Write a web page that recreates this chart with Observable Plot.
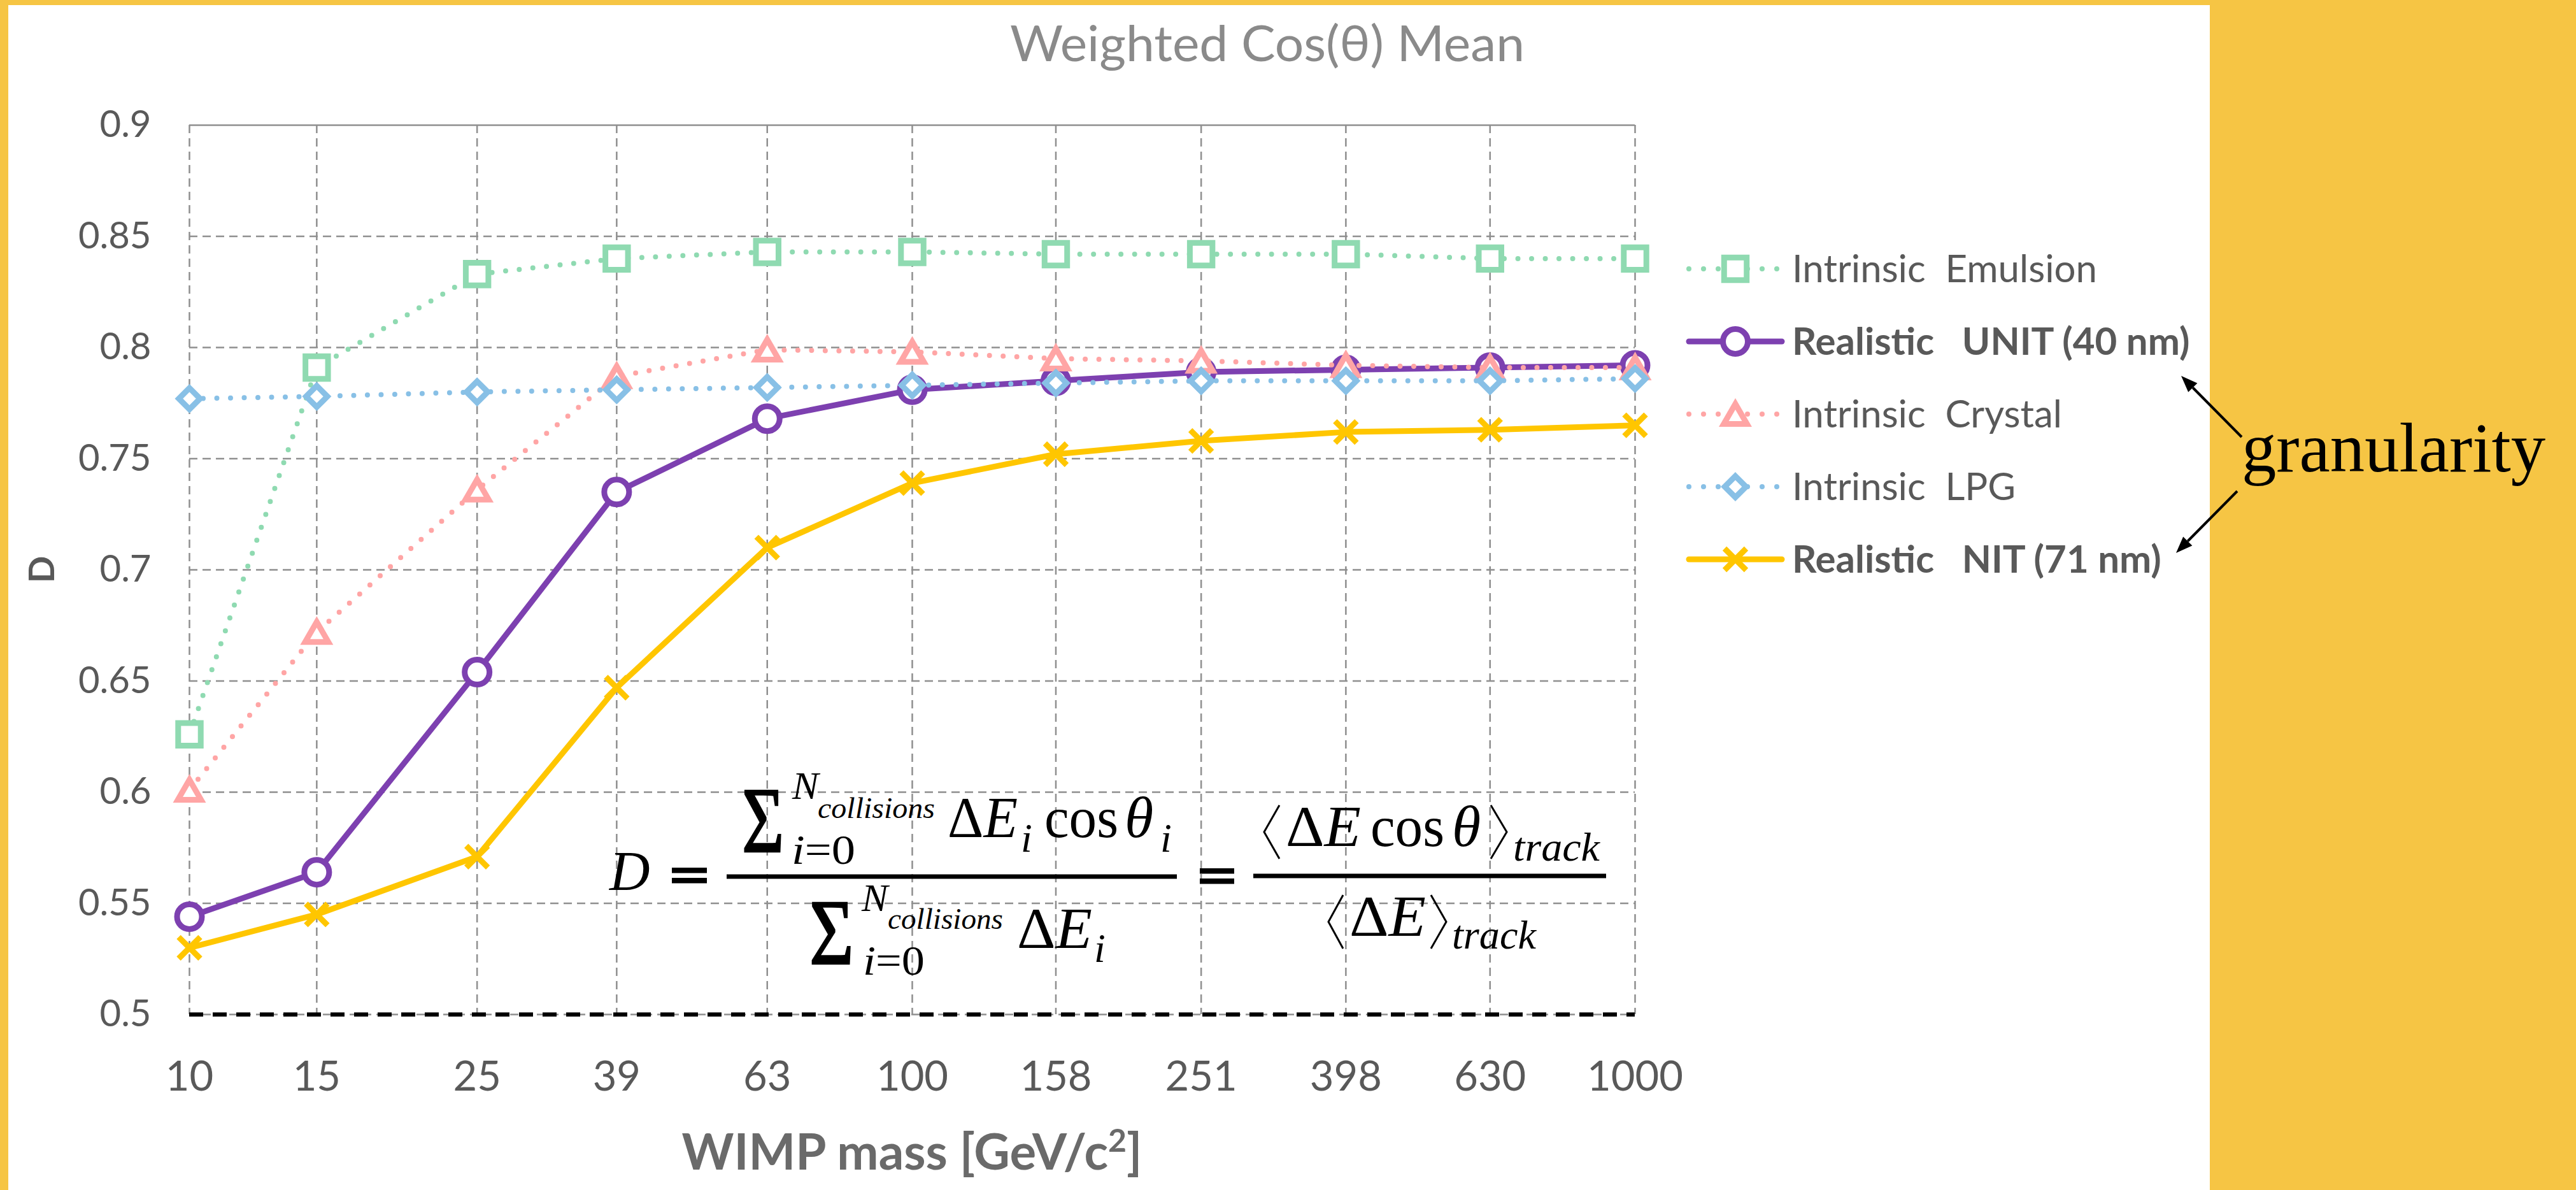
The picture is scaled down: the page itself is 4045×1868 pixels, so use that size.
<!DOCTYPE html>
<html>
<head>
<meta charset="utf-8">
<script src="https://cdn.jsdelivr.net/npm/d3@7"></script>
<script src="https://cdn.jsdelivr.net/npm/@observablehq/plot@0.6"></script>
<style>
  html, body { margin: 0; padding: 0; background: #F6C544; overflow: hidden; }
  #stage { position: relative; width: 4045px; height: 1868px; background: #F6C544; overflow: hidden; }
  #panel { position: absolute; left: 13px; top: 8px; width: 3457px; height: 1860px; background: #ffffff; }
  #panel svg { position: absolute; left: 0; top: 0; }
  #overlay { position: absolute; left: 0; top: 0; pointer-events: none; }
  #overlay text { white-space: pre; }
</style>
</head>
<body>
<div id="stage"><div id="panel"></div></div>
<script>
// WIMP masses (GeV/c^2) used as the x categories, drawn on a log axis
const masses = [10, 15, 25, 39, 63, 100, 158, 251, 398, 630, 1000];
const xTickLabels = ["10", "15", "25", "39", "63", "100", "158", "251", "398", "630", "1000"];

// Weighted cos(theta) mean D for each detector configuration
const emulsion = [0.626, 0.791, 0.833, 0.840, 0.843, 0.843, 0.842, 0.842, 0.842, 0.840, 0.840];
const unit40   = [0.544, 0.564, 0.654, 0.735, 0.768, 0.781, 0.785, 0.789, 0.790, 0.791, 0.792];
const crystal  = [0.601, 0.672, 0.736, 0.787, 0.799, 0.798, 0.795, 0.794, 0.792, 0.791, 0.791];
const lpg      = [0.777, 0.778, 0.780, 0.781, 0.782, 0.783, 0.784, 0.785, 0.785, 0.785, 0.786];
const nit71    = [0.530, 0.545, 0.571, 0.647, 0.710, 0.739, 0.752, 0.758, 0.762, 0.763, 0.765];

const seriesNames = ["Intrinsic  Emulsion", "Realistic   UNIT (40 nm)", "Intrinsic  Crystal", "Intrinsic  LPG", "Realistic   NIT (71 nm)"];
const seriesValues = [emulsion, unit40, crystal, lpg, nit71];

const yTicks = [0.5, 0.55, 0.6, 0.65, 0.7, 0.75, 0.8, 0.85, 0.9];
const yTickLabels = ["0.5", "0.55", "0.6", "0.65", "0.7", "0.75", "0.8", "0.85", "0.9"];

// Per-series drawing style (same order as the names above)
const seriesStyle = [
  {color: "#8FDAB1", dotted: true,  bold: false, symbol: "square",   r: 20,   dy: 0},
  {color: "#7D40B0", dotted: false, bold: true,  symbol: "circle",   r: 19.5, dy: 0},
  {color: "#FFA5A5", dotted: true,  bold: false, symbol: "triangle", r: 13.5, dy: 5},
  {color: "#88C0E6", dotted: true,  bold: false, symbol: "diamond2", r: 15,   dy: 0},
  {color: "#FFC600", dotted: false, bold: true,  symbol: "times",    r: 15.5, dy: 0}
];

const yLabelOf = new Map(yTicks.map((v, i) => [v, yTickLabels[i]]));

const series = seriesNames.map((name, k) => ({
  name,
  ...seriesStyle[k],
  rows: masses.map((m, i) => ({mass: m, value: seriesValues[k][i]}))
}));

const gridGray = "#8f8f8f";
const inner = yTicks.filter(v => v > 0.5 && v < 0.9);

const marks = [
  // horizontal and vertical dashed grid
  Plot.ruleY(inner, {stroke: gridGray, strokeWidth: 2.5, strokeDasharray: "13 8"}),
  Plot.ruleX(masses, {stroke: gridGray, strokeWidth: 2.5, strokeDasharray: "13 8"}),
  Plot.ruleY([0.9], {stroke: gridGray, strokeWidth: 2.5}),
  // baseline at D = 0.5
  Plot.ruleY([0.5], {stroke: gridGray, strokeWidth: 2.5, strokeDasharray: "13 8"}),
  Plot.ruleY([0.5], {stroke: "#000000", strokeWidth: 6.5, strokeDasharray: "22 15"}),
  // mass labels under each grid line
  Plot.text(masses, {x: d => d, text: (d, i) => xTickLabels[i], frameAnchor: "bottom",
    lineAnchor: "middle", dy: 99, fontSize: 65, fill: "#595959"}),
  Plot.axisY({ticks: yTicks, tickSize: 0, tickPadding: 60, fontSize: 58, color: "#595959",
    label: null, tickFormat: d => yLabelOf.get(d)})
];

for (const s of series) {
  marks.push(Plot.line(s.rows, {
    x: "mass", y: "value", stroke: s.color,
    strokeWidth: s.dotted ? 8 : 9,
    strokeDasharray: s.dotted ? "0 21.5" : null,
    strokeLinecap: "round", strokeLinejoin: "round"
  }));
  marks.push(Plot.dot(s.rows, {
    x: "mass", y: "value", symbol: s.symbol, r: s.r, dy: s.dy,
    stroke: s.color, strokeWidth: 9,
    fill: s.symbol === "times" ? "none" : "white"
  }));
}

const chart = Plot.plot({
  width: 3457, height: 1860,
  marginLeft: 284, marginRight: 903, marginTop: 188, marginBottom: 276,
  style: {fontFamily: "Lato, 'Open Sans', sans-serif", background: "transparent", overflow: "visible"},
  x: {type: "log", domain: [10, 1000], axis: null},
  y: {domain: [0.5, 0.9]},
  marks
});
document.getElementById("panel").appendChild(chart);

// ---------- titles, legend, formula and annotation ----------
const overlay = d3.select("#stage").append("svg")
  .attr("id", "overlay").attr("width", 4045).attr("height", 1868);

const sans = "Lato, 'Open Sans', sans-serif";
const serif = "'Liberation Serif', 'Times New Roman', serif";

function txt(x, y, s, size, o = {}) {
  const t = overlay.append("text")
    .attr("x", x).attr("y", y)
    .attr("font-size", size)
    .attr("font-family", o.family || serif)
    .attr("font-style", o.italic ? "italic" : "normal")
    .attr("font-weight", o.bold ? "bold" : "normal")
    .attr("fill", o.fill || "#000")
    .attr("text-anchor", o.anchor || "start");
  if (o.len) t.attr("textLength", o.len).attr("lengthAdjust", "spacingAndGlyphs");
  if (s !== null) t.text(s);
  return t;
}
// large summation sign, narrowed horizontally
function sigma(x, y, size, sx) {
  overlay.append("text")
    .attr("transform", `translate(${x},${y}) scale(${sx},1)`)
    .attr("font-size", size).attr("font-family", serif)
    .attr("fill", "#000").attr("stroke", "#000").attr("stroke-width", 2.5)
    .text("Σ");
}

// chart title
txt(1990, 96, "Weighted Cos(θ) Mean", 78, {family: sans, fill: "#8a8a8a", anchor: "middle", len: 808});

// x axis title
const xt = txt(1432, 1836, null, 78, {family: sans, bold: true, fill: "#6a6a6a", anchor: "middle"});
xt.append("tspan").text("WIMP mass [GeV/c");
xt.append("tspan").attr("dy", -28).attr("font-size", 50).text("2");
xt.append("tspan").attr("dy", 28).text("]");

// y axis title
overlay.append("text")
  .attr("transform", "translate(65,894) rotate(-90)")
  .attr("text-anchor", "middle").attr("dy", "0.36em")
  .attr("font-family", sans).attr("font-weight", "bold").attr("font-size", 56)
  .attr("fill", "#595959").text("D");

// legend
const symbolOf = {
  square: d3.symbolSquare, circle: d3.symbolCircle, triangle: d3.symbolTriangle,
  diamond2: d3.symbolDiamond2, times: d3.symbolTimes
};
const legendY0 = 422, legendStep = 114;
series.forEach((s, i) => {
  const y = legendY0 + i * legendStep;
  overlay.append("line")
    .attr("x1", 2652).attr("x2", s.dotted ? 2792 : 2798).attr("y1", y).attr("y2", y)
    .attr("stroke", s.color).attr("stroke-width", s.dotted ? 8 : 9)
    .attr("stroke-dasharray", s.dotted ? "0 23" : null)
    .attr("stroke-linecap", "round");
  overlay.append("path")
    .attr("transform", `translate(2725,${y + s.dy})`)
    .attr("d", d3.symbol(symbolOf[s.symbol], s.r * s.r * Math.PI)())
    .attr("fill", s.symbol === "times" ? "none" : "white")
    .attr("stroke", s.color).attr("stroke-width", 9);
  txt(2814, y + 21, s.name, 60, {family: sans, bold: s.bold, fill: "#595959"});
});

// definition of D
function fracBar(x1, x2, y) {
  overlay.append("rect").attr("x", x1).attr("y", y - 3.5).attr("width", x2 - x1).attr("height", 7).attr("fill", "#000");
}
function equals(x1, x2, yTop) {
  overlay.append("rect").attr("x", x1).attr("y", yTop).attr("width", x2 - x1).attr("height", 8.5).attr("fill", "#000");
  overlay.append("rect").attr("x", x1).attr("y", yTop + 16).attr("width", x2 - x1).attr("height", 8.5).attr("fill", "#000");
}
function angle(xTip, xEnd, yTop, yBot) {
  const ym = (yTop + yBot) / 2;
  overlay.append("path").attr("d", `M${xEnd},${yTop}L${xTip},${ym}L${xEnd},${yBot}`)
    .attr("fill", "none").attr("stroke", "#000").attr("stroke-width", 3);
}
function deltaE(x, y, size, len) {
  const t = txt(x, y, null, size, {len});
  t.append("tspan").text("Δ");
  t.append("tspan").attr("font-style", "italic").text("E");
}
function limits(x, y, size, len) {
  const t = txt(x, y, null, size, {len});
  t.append("tspan").attr("font-style", "italic").text("i");
  t.append("tspan").text("=0");
}

txt(957, 1397, "D", 88, {italic: true});
equals(1055, 1110, 1362);
fracBar(1141, 1848, 1376);

// numerator: sum of dE_i cos(theta_i)
sigma(1165, 1337, 146, 0.78);
txt(1244, 1254, "N", 62, {italic: true});
txt(1284, 1284, "collisions", 46, {italic: true, len: 184});
limits(1243, 1356, 66, 100);
deltaE(1488, 1314, 92, 110);
txt(1603, 1337, "i", 64, {italic: true});
txt(1640, 1314, "cos", 92, {len: 116});
txt(1766, 1314, "θ", 92, {italic: true});
txt(1822, 1337, "i", 64, {italic: true});

// denominator: sum of dE_i
sigma(1271, 1513, 146, 0.82);
txt(1353, 1430, "N", 62, {italic: true});
txt(1394, 1458, "collisions", 46, {italic: true, len: 181});
limits(1355, 1530, 66, 97);
deltaE(1597, 1488, 92, 118);
txt(1718, 1510, "i", 64, {italic: true});

equals(1884, 1938, 1363);
fracBar(1968, 2522, 1375);

// track averages
angle(1985, 2009, 1264, 1348);
deltaE(2019, 1328, 92, 118);
txt(2152, 1328, "cos", 92, {len: 116});
txt(2280, 1328, "θ", 92, {italic: true});
angle(2366, 2341, 1264, 1348);
txt(2376, 1351, "track", 64, {italic: true, len: 136});

angle(2086, 2109, 1405, 1489);
deltaE(2119, 1469, 92, 120);
angle(2271, 2247, 1405, 1489);
txt(2280, 1489, "track", 64, {italic: true, len: 132});

// granularity annotation with arrows to the two realistic series
txt(3520, 740, "granularity", 110, {len: 477});
function arrow(x1, y1, x2, y2) {
  const a = Math.atan2(y2 - y1, x2 - x1), L = 26, w = 10;
  const bx = x2 - L * Math.cos(a), by = y2 - L * Math.sin(a);
  overlay.append("line").attr("x1", x1).attr("y1", y1).attr("x2", bx).attr("y2", by)
    .attr("stroke", "#000").attr("stroke-width", 4);
  const px = -Math.sin(a) * w, py = Math.cos(a) * w;
  overlay.append("path")
    .attr("d", `M${x2},${y2}L${bx + px},${by + py}L${bx - px},${by - py}Z`)
    .attr("fill", "#000");
}
arrow(3520, 686, 3425, 590);
arrow(3513, 771, 3417, 868);
</script>
</body>
</html>
